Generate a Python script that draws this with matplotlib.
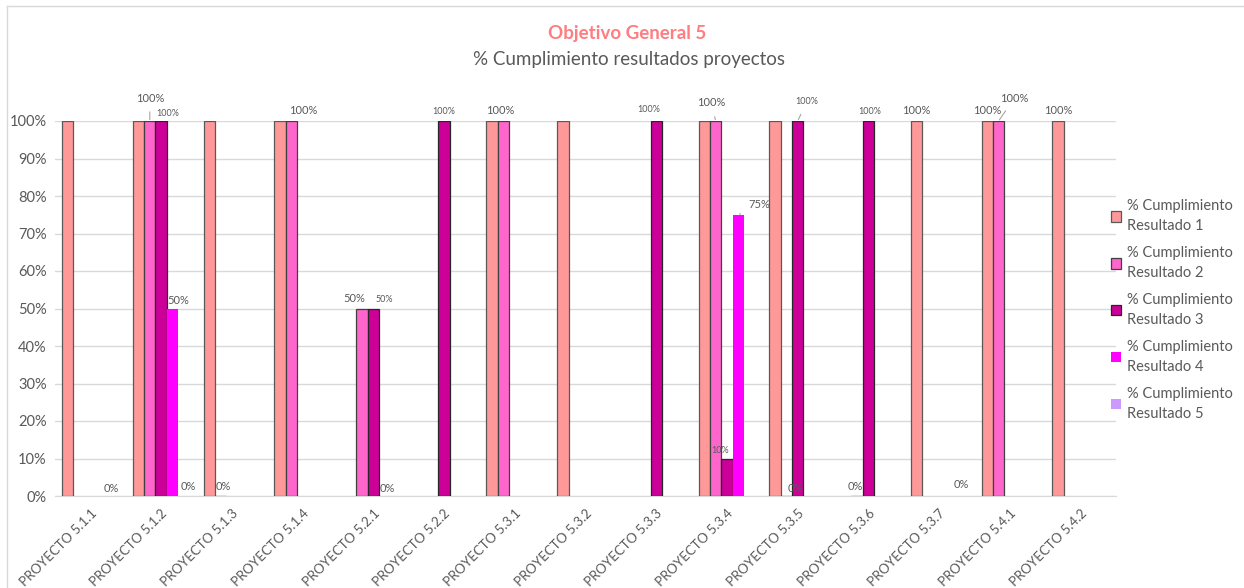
import numpy as np
import matplotlib
matplotlib.use('Agg')
import matplotlib.pyplot as plt
from matplotlib.lines import Line2D

plt.rcParams['font.family'] = ['Lato', 'DejaVu Sans']

nan = np.nan
proyectos = ['PROYECTO 5.1.1', 'PROYECTO 5.1.2', 'PROYECTO 5.1.3', 'PROYECTO 5.1.4',
             'PROYECTO 5.2.1', 'PROYECTO 5.2.2', 'PROYECTO 5.3.1', 'PROYECTO 5.3.2',
             'PROYECTO 5.3.3', 'PROYECTO 5.3.4', 'PROYECTO 5.3.5', 'PROYECTO 5.3.6',
             'PROYECTO 5.3.7', 'PROYECTO 5.4.1', 'PROYECTO 5.4.2']
series = ['% Cumplimiento\nResultado 1', '% Cumplimiento\nResultado 2',
          '% Cumplimiento\nResultado 3', '% Cumplimiento\nResultado 4',
          '% Cumplimiento\nResultado 5']

resultado1 = [100, 100, 100, 100, nan, nan, 100, 100, nan, 100, 100, nan, 100, 100, 100]
resultado2 = [nan, 100, 0, 100, 50, nan, 100, nan, nan, 100, 0, 0, nan, 100, nan]
resultado3 = [nan, 100, nan, nan, 50, 100, nan, nan, 100, 10, 100, 100, nan, nan, nan]
resultado4 = [nan, 50, nan, nan, 0, nan, nan, nan, nan, 75, nan, nan, nan, nan, nan]
resultado5 = [0, 0, nan, nan, nan, nan, nan, nan, nan, nan, nan, nan, 0, nan, nan]
valores = [resultado1, resultado2, resultado3, resultado4, resultado5]

colores = ['#FF9999', '#FF66CC', '#CC0099', '#FF00FF', '#CC99FF']
bordes = ['#595959', '#404040', '#262626', 'none', 'none']

# etiquetas: (proyecto, resultado, dx px, dy px, tamano, linea guia)
etiquetas = [(0, 4, -2, 7, 8, False),
             (1, 1, 0, 23, 8, True), (1, 2, 7, 8, 6.5, False),
             (1, 3, 6, 8, 8, False), (1, 4, 5, 10, 8, False),
             (2, 1, 3, 9, 8, False),
             (3, 1, 12, 11, 8, False),
             (4, 1, -8, 10, 8, False), (4, 2, 11, 9, 6.5, False), (4, 3, 3, 8, 8, False),
             (5, 2, 0, 10, 6.5, False),
             (6, 1, -3, 11, 8, False),
             (8, 2, -8, 11, 6.5, False),
             (9, 1, -4, 18, 8, True), (9, 2, -7, 8, 6.5, False), (9, 3, 21, 10, 8, True),
             (10, 1, 9, 8, 8, False), (10, 2, 9, 19, 6.5, True),
             (11, 1, -2, 10, 8, False), (11, 2, 1, 10, 6.5, False),
             (12, 0, 0, 11, 8, False), (12, 4, 0, 11, 8, False),
             (13, 0, 0, 11, 8, False), (13, 1, 16, 23, 8, True),
             (14, 0, 0, 11, 8, False)]

gris = '#595959'
fig = plt.figure(figsize=(12.44, 5.88), dpi=100)
ax = fig.add_axes([55/1244, 1-496/588, (1116-55)/1244, (496-121)/588])

x = np.arange(len(proyectos))
ancho = 0.16
for j in range(5):
    v = np.array(valores[j], dtype=float) / 100
    ok = ~np.isnan(v)
    ax.bar(x[ok] + (j-2)*ancho, v[ok], ancho, color=colores[j],
           edgecolor=bordes[j], linewidth=0.9, label=series[j], zorder=3)

for (i, j, dx, dy, tam, guia) in etiquetas:
    v = valores[j][i]
    xb = i + (j-2)*ancho
    props = None
    if guia:
        props = dict(arrowstyle='-', color='#A6A6A6', lw=0.8, shrinkA=4, shrinkB=1)
    ax.annotate('%d%%' % v, xy=(xb, v/100), xytext=(dx, dy), textcoords='offset pixels',
                ha='center', va='center', fontsize=tam, color=gris,
                annotation_clip=False, arrowprops=props)

ax.set_xlim(-0.5, len(proyectos)-0.5)
ax.set_ylim(0, 1)
ax.set_yticks(np.arange(0, 1.01, 0.1))
ax.set_yticklabels(['%d%%' % round(t*100) for t in np.arange(0, 1.01, 0.1)])
ax.yaxis.grid(True, color='#D9D9D9', lw=1, zorder=0)
ax.set_axisbelow(True)
ax.set_xticks(x)
ax.set_xticklabels(proyectos, rotation=45, ha='right', rotation_mode='anchor')
for s in ['top', 'right', 'left']:
    ax.spines[s].set_visible(False)
ax.spines['bottom'].set_color('#D9D9D9')
ax.tick_params(axis='both', length=0, colors=gris, labelsize=10.5)
ax.tick_params(axis='x', pad=8, labelsize=9.5)
ax.tick_params(axis='y', pad=6)

fig.text(627/1244, 1-34/588, 'Objetivo General 5', ha='center', va='center',
         fontsize=13.5, fontweight='bold', color='#FF7C80')
fig.text(629/1244, 1-60/588, '% Cumplimiento resultados proyectos', ha='center',
         va='center', fontsize=13.5, color=gris)

leg = fig.legend(loc='upper left', bbox_to_anchor=(1098/1244, 1-186/588), frameon=False,
                 fontsize=10.5, labelcolor=gris, handlelength=0.7, handleheight=0.7,
                 handletextpad=0.4, labelspacing=0.88)
for t in leg.get_texts():
    t.set_linespacing(1.55)

# borde del area del grafico
fig.add_artist(Line2D([7/1244, 1], [1-6/588, 1-6/588], color='#D9D9D9', lw=1))
fig.add_artist(Line2D([7/1244, 7/1244], [0, 1-6/588], color='#D9D9D9', lw=1))

fig.savefig('out.png', dpi=100)
